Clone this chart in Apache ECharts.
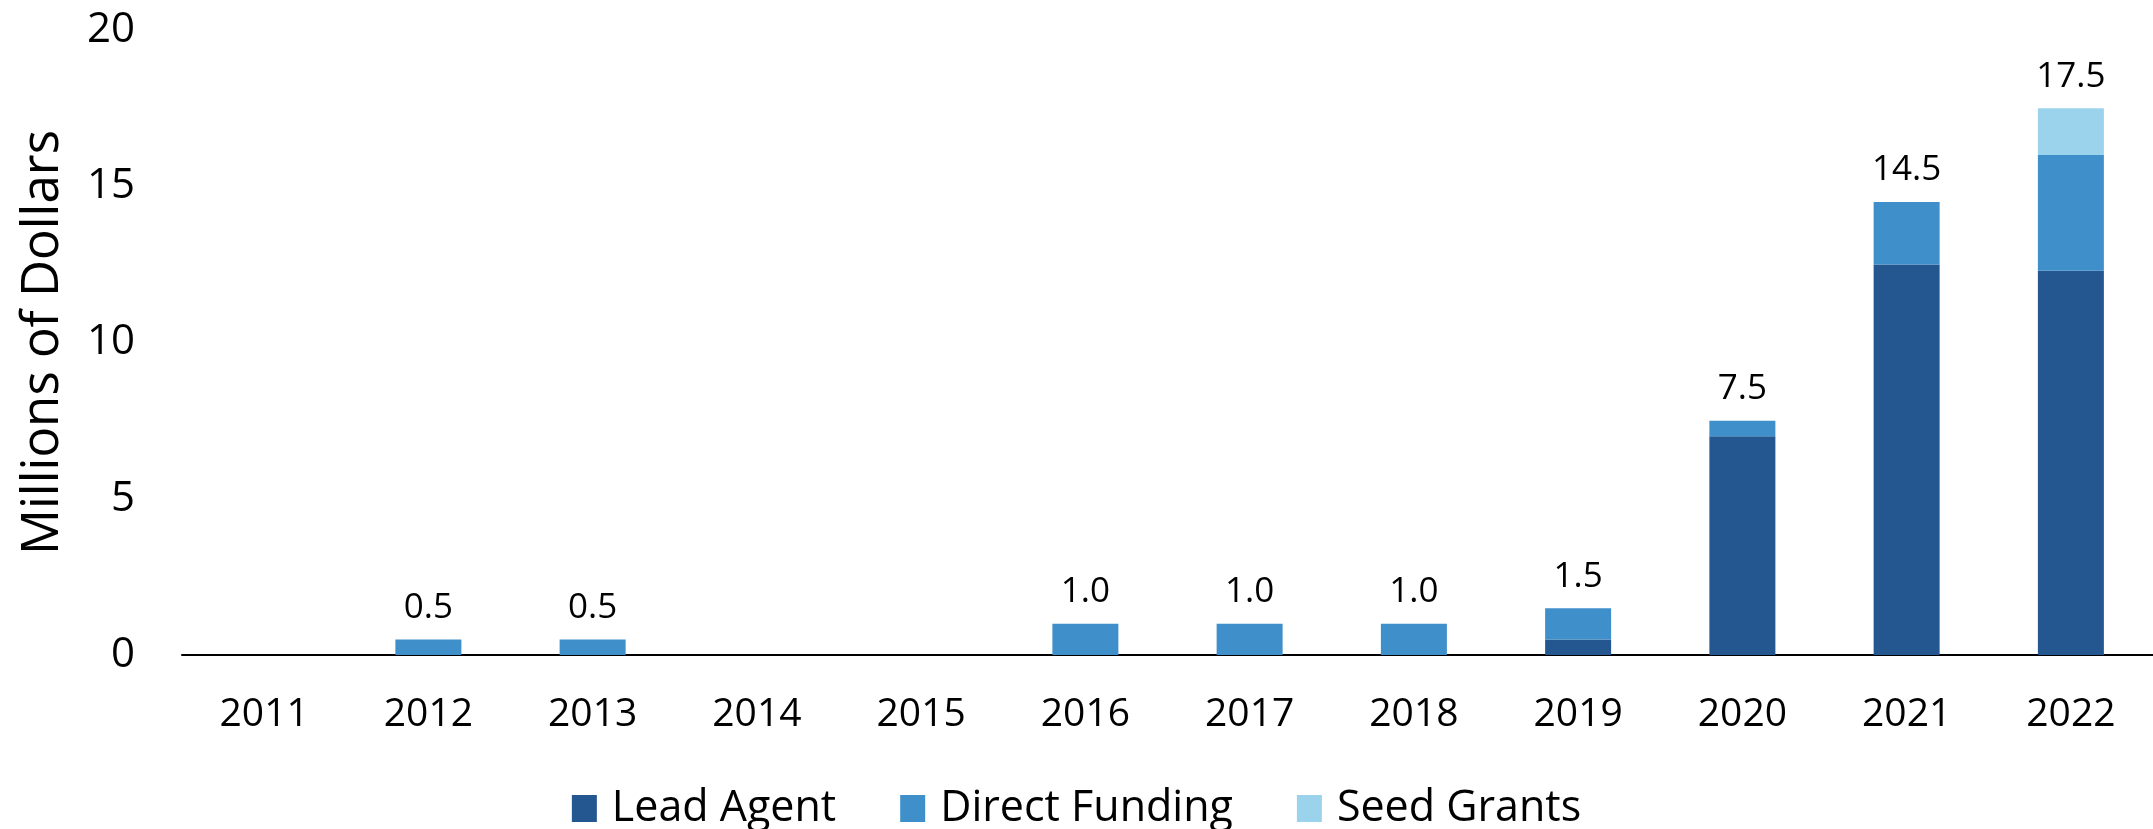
<!DOCTYPE html>
<html>
<head>
<meta charset="utf-8">
<script src="https://cdn.jsdelivr.net/npm/echarts@6/dist/echarts.min.js"></script>
<style>
    html, body { margin: 0; padding: 0; background: #fff; }
    #chart { width: 2153px; height: 829px; }
</style>
</head>
<body>
<div id="chart"></div>
<script>
// Data
var years = ['2011', '2012', '2013', '2014', '2015', '2016', '2017', '2018', '2019', '2020', '2021', '2022'];
var leadAgent = [0, 0, 0, 0, 0, 0, 0, 0, 0.5, 7.0, 12.5, 12.3];
var directFunding = [0, 0.5, 0.5, 0, 0, 1.0, 1.0, 1.0, 1.0, 0.5, 2.0, 3.7];
var seedGrants = [0, 0, 0, 0, 0, 0, 0, 0, 0, 0, 0, 1.5];
var yTicks = [0, 5, 10, 15, 20];

// totals shown above each bar
var totals = years.map(function(y, i) {
    return leadAgent[i] + directFunding[i] + seedGrants[i];
});

var fontFamily = '"Open Sans", "Noto Sans", sans-serif';

var chart = echarts.init(document.getElementById('chart'));

var option = {
    animation: false,
    color: ['#245690', '#3f8fcb', '#9cd3ec'],
    textStyle: { fontFamily: fontFamily, color: '#000' },
    grid: { left: 182, right: 0, top: 30, bottom: 174 },
    legend: {
        top: 782,
        left: 'center',
        itemWidth: 25,
        itemHeight: 27,
        itemGap: 64,
        icon: 'rect',
        textStyle: {
            fontSize: 43,
            color: '#000',
            fontFamily: fontFamily,
            padding: [0, 0, 0, 10]
        },
        data: ['Lead Agent', 'Direct Funding', 'Seed Grants']
    },
    xAxis: {
        type: 'category',
        data: years,
        axisLine: { lineStyle: { color: '#000', width: 2 } },
        axisTick: { show: false },
        axisLabel: { fontSize: 39, color: '#000', margin: 40 }
    },
    yAxis: {
        type: 'value',
        min: yTicks[0],
        max: yTicks[yTicks.length - 1],
        interval: 5,
        name: 'Millions of Dollars',
        nameLocation: 'middle',
        nameGap: 113,
        nameTextStyle: { fontSize: 51, color: '#000' },
        axisLine: { show: false },
        axisTick: { show: false },
        splitLine: { show: false },
        axisLabel: { fontSize: 42, color: '#000', margin: 47 }
    },
    series: [
        { name: 'Lead Agent', type: 'bar', stack: 'total', barWidth: 66, data: leadAgent },
        { name: 'Direct Funding', type: 'bar', stack: 'total', data: directFunding },
        { name: 'Seed Grants', type: 'bar', stack: 'total', data: seedGrants },
        {
            name: 'Total',
            type: 'bar',
            stack: 'total',
            data: years.map(function() { return 0; }),
            itemStyle: { color: 'transparent' },
            label: {
                show: true,
                position: 'top',
                distance: 14,
                fontSize: 35,
                color: '#000',
                fontFamily: fontFamily,
                formatter: function(p) {
                    var t = totals[p.dataIndex];
                    return t > 0 ? t.toFixed(1) : '';
                }
            }
        }
    ]
};

chart.setOption(option);
</script>
</body>
</html>
